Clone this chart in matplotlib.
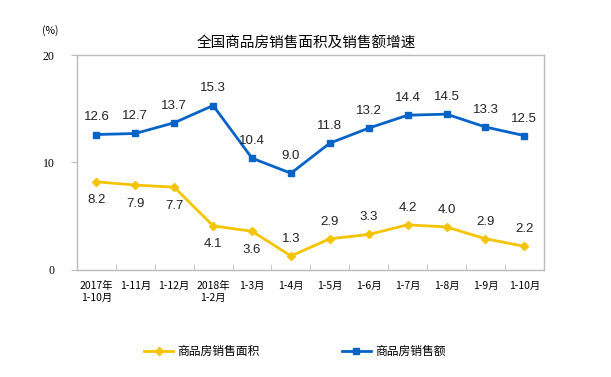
import matplotlib
matplotlib.use("Agg")
import matplotlib.pyplot as plt
import numpy as np

plt.rcParams['font.family'] = ['Noto Sans CJK SC', 'DejaVu Sans']

categories = ["2017年\n1-10月", "1-11月", "1-12月", "2018年\n1-2月", "1-3月", "1-4月",
              "1-5月", "1-6月", "1-7月", "1-8月", "1-9月", "1-10月"]
area_growth = [8.2, 7.9, 7.7, 4.1, 3.6, 1.3, 2.9, 3.3, 4.2, 4.0, 2.9, 2.2]
sales_growth = [12.6, 12.7, 13.7, 15.3, 10.4, 9.0, 11.8, 13.2, 14.4, 14.5, 13.3, 12.5]
area_label_below = [True, True, True, True, True, False, False, False, False, False, False, False]

yellow = "#F5C400"
blue = "#0563C8"

fig = plt.figure(figsize=(6.11, 3.77), dpi=100)
ax = fig.add_axes([0.126, 0.284, 0.764, 0.570])

x = np.arange(len(categories))
ax.plot(x, area_growth, color=yellow, lw=2, marker="D", ms=4.5, label="商品房销售面积")
ax.plot(x, sales_growth, color=blue, lw=2, marker="s", ms=4.5, label="商品房销售额")

for xi, v, below in zip(x, area_growth, area_label_below):
    off = -9 if below else 8
    ax.annotate(f"{v:.1f}", (xi, v), xytext=(0, off), textcoords="offset points",
                ha="center", va="top" if below else "bottom",
                fontsize=9.5, family="Liberation Sans", color="#222222")
for xi, v in zip(x, sales_growth):
    ax.annotate(f"{v:.1f}", (xi, v), xytext=(0, 8), textcoords="offset points",
                ha="center", va="bottom", fontsize=9.5, family="Liberation Sans", color="#222222")

ax.set_xlim(-0.5, len(categories) - 0.5)
ax.set_ylim(0, 20)
ax.set_yticks([0, 10, 20])
ax.set_yticklabels(["0", "10", "20"], family="Liberation Serif", fontsize=8.5)
ax.set_xticks(x)
ax.set_xticklabels(categories, fontsize=7.5, ha="center")
ax.set_xticks(np.arange(len(categories) + 1) - 0.5, minor=True)
ax.tick_params(axis="x", which="major", length=0, pad=8)
ax.tick_params(axis="x", which="minor", length=4, direction="in", color="#BBBBBB")
ax.tick_params(axis="y", length=4, color="#BBBBBB", pad=12)
for s in ax.spines.values():
    s.set_color("#BBBBBB")
    s.set_linewidth(1)

fig.text(0.502, 0.883, "全国商品房销售面积及销售额增速", ha="center", va="center", fontsize=10.5)
fig.text(0.082, 0.918, "(%)", ha="center", va="center", fontsize=7.5)

fig.legend(loc="center", bbox_to_anchor=(0.482, 0.067), ncol=2, frameon=False,
           fontsize=8.5, columnspacing=7, handlelength=2.5, handletextpad=0.3)

fig.savefig("out.png", dpi=100)
